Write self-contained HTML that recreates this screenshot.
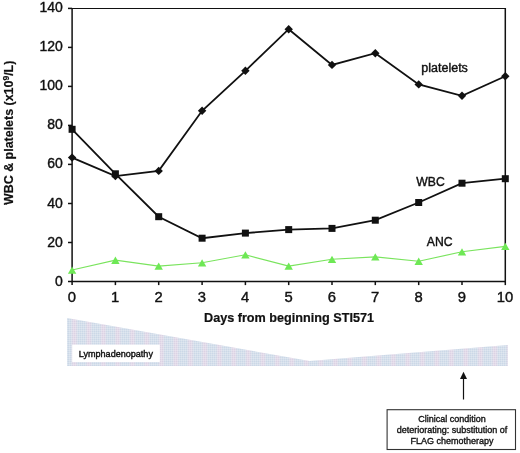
<!DOCTYPE html><html><head><meta charset="utf-8"><title>Figure</title><style>html,body{margin:0;padding:0;background:#fff}svg{display:block}</style></head><body><svg width="520" height="453" viewBox="0 0 520 453" font-family="'Liberation Sans', Arial, sans-serif">
<defs><linearGradient id="pg" x1="0" x2="1" y1="0" y2="0"><stop offset="0" stop-color="#cbd8e7"/><stop offset="0.25" stop-color="#cbd8e7"/><stop offset="0.42" stop-color="#dcd2e4"/><stop offset="0.58" stop-color="#dcd2e4"/><stop offset="0.75" stop-color="#cbd8e7"/><stop offset="1" stop-color="#cbd8e7"/></linearGradient><pattern id="pt" width="14.5" height="4" patternUnits="userSpaceOnUse" patternTransform="translate(67,0)"><rect width="14.6" height="4" fill="url(#pg)"/></pattern><pattern id="gr" width="2" height="2" patternUnits="userSpaceOnUse" patternTransform="translate(67,318)"><path d="M0,0.4 H2 M0.4,0 V2" stroke="#fff" stroke-width="0.8" stroke-opacity="0.3" fill="none"/></pattern></defs>
<rect width="520" height="453" fill="#fff"/>
<polygon points="67,318 309.5,361 508,345 508,366 67,366" fill="url(#pt)"/>
<polygon points="67,318 309.5,361 508,345 508,366 67,366" fill="url(#gr)"/>
<rect x="72.2" y="344.7" width="87.6" height="17.3" fill="#fff"/>
<text x="78.8" y="356.9" font-size="9.05" fill="#111" stroke="#111" stroke-width="0.4">Lymphadenopathy</text>
<path d="M72.1,8.5 H505.3" fill="none" stroke="#111" stroke-width="1.1"/><path d="M505.3,8 V282.2" fill="none" stroke="#111" stroke-width="1.5"/>
<path d="M72.1,7.9 V281.5 H505.8" fill="none" stroke="#111" stroke-width="1.5"/>
<line x1="68" x2="72.1" y1="281.5" y2="281.5" stroke="#111" stroke-width="1.5"/>
<text x="62.8" y="285.5" font-size="14" text-anchor="end" fill="#111" stroke="#111" stroke-width="0.4">0</text>
<line x1="68" x2="72.1" y1="242.5" y2="242.5" stroke="#111" stroke-width="1.5"/>
<text x="62.8" y="246.5" font-size="14" text-anchor="end" fill="#111" stroke="#111" stroke-width="0.4">20</text>
<line x1="68" x2="72.1" y1="203.5" y2="203.5" stroke="#111" stroke-width="1.5"/>
<text x="62.8" y="207.5" font-size="14" text-anchor="end" fill="#111" stroke="#111" stroke-width="0.4">40</text>
<line x1="68" x2="72.1" y1="164.4" y2="164.4" stroke="#111" stroke-width="1.5"/>
<text x="62.8" y="168.4" font-size="14" text-anchor="end" fill="#111" stroke="#111" stroke-width="0.4">60</text>
<line x1="68" x2="72.1" y1="125.4" y2="125.4" stroke="#111" stroke-width="1.5"/>
<text x="62.8" y="129.4" font-size="14" text-anchor="end" fill="#111" stroke="#111" stroke-width="0.4">80</text>
<line x1="68" x2="72.1" y1="86.4" y2="86.4" stroke="#111" stroke-width="1.5"/>
<text x="62.8" y="90.4" font-size="14" text-anchor="end" fill="#111" stroke="#111" stroke-width="0.4">100</text>
<line x1="68" x2="72.1" y1="47.4" y2="47.4" stroke="#111" stroke-width="1.5"/>
<text x="62.8" y="51.4" font-size="14" text-anchor="end" fill="#111" stroke="#111" stroke-width="0.4">120</text>
<line x1="68" x2="72.1" y1="8.4" y2="8.4" stroke="#111" stroke-width="1.5"/>
<text x="62.8" y="12.4" font-size="14" text-anchor="end" fill="#111" stroke="#111" stroke-width="0.4">140</text>
<line x1="72.1" x2="72.1" y1="281.5" y2="285.1" stroke="#111" stroke-width="1.5"/>
<text x="71.9" y="301.9" font-size="14.8" text-anchor="middle" fill="#111" stroke="#111" stroke-width="0.4">0</text>
<line x1="115.4" x2="115.4" y1="281.5" y2="285.1" stroke="#111" stroke-width="1.5"/>
<text x="115.2" y="301.9" font-size="14.8" text-anchor="middle" fill="#111" stroke="#111" stroke-width="0.4">1</text>
<line x1="158.7" x2="158.7" y1="281.5" y2="285.1" stroke="#111" stroke-width="1.5"/>
<text x="158.5" y="301.9" font-size="14.8" text-anchor="middle" fill="#111" stroke="#111" stroke-width="0.4">2</text>
<line x1="202.1" x2="202.1" y1="281.5" y2="285.1" stroke="#111" stroke-width="1.5"/>
<text x="201.9" y="301.9" font-size="14.8" text-anchor="middle" fill="#111" stroke="#111" stroke-width="0.4">3</text>
<line x1="245.4" x2="245.4" y1="281.5" y2="285.1" stroke="#111" stroke-width="1.5"/>
<text x="245.2" y="301.9" font-size="14.8" text-anchor="middle" fill="#111" stroke="#111" stroke-width="0.4">4</text>
<line x1="288.7" x2="288.7" y1="281.5" y2="285.1" stroke="#111" stroke-width="1.5"/>
<text x="288.5" y="301.9" font-size="14.8" text-anchor="middle" fill="#111" stroke="#111" stroke-width="0.4">5</text>
<line x1="332.0" x2="332.0" y1="281.5" y2="285.1" stroke="#111" stroke-width="1.5"/>
<text x="331.8" y="301.9" font-size="14.8" text-anchor="middle" fill="#111" stroke="#111" stroke-width="0.4">6</text>
<line x1="375.3" x2="375.3" y1="281.5" y2="285.1" stroke="#111" stroke-width="1.5"/>
<text x="375.1" y="301.9" font-size="14.8" text-anchor="middle" fill="#111" stroke="#111" stroke-width="0.4">7</text>
<line x1="418.7" x2="418.7" y1="281.5" y2="285.1" stroke="#111" stroke-width="1.5"/>
<text x="418.5" y="301.9" font-size="14.8" text-anchor="middle" fill="#111" stroke="#111" stroke-width="0.4">8</text>
<line x1="462.0" x2="462.0" y1="281.5" y2="285.1" stroke="#111" stroke-width="1.5"/>
<text x="461.8" y="301.9" font-size="14.8" text-anchor="middle" fill="#111" stroke="#111" stroke-width="0.4">9</text>
<line x1="505.3" x2="505.3" y1="281.5" y2="285.1" stroke="#111" stroke-width="1.5"/>
<text x="505.1" y="301.9" font-size="14.8" text-anchor="middle" fill="#111" stroke="#111" stroke-width="0.4">10</text>
<polyline points="72.1,270.0 115.4,260.2 158.7,266.1 202.1,262.8 245.4,254.8 288.7,266.1 332.0,259.3 375.3,256.9 418.7,261.2 462.0,251.8 505.3,246.4" fill="none" stroke="#7ae45e" stroke-width="1.15"/>
<polygon points="72.1,266.4 76.3,273.7 67.9,273.7" fill="#6ee855"/>
<polygon points="115.4,256.6 119.6,263.9 111.2,263.9" fill="#6ee855"/>
<polygon points="158.7,262.5 162.9,269.8 154.5,269.8" fill="#6ee855"/>
<polygon points="202.1,259.2 206.3,266.5 197.9,266.5" fill="#6ee855"/>
<polygon points="245.4,251.2 249.6,258.5 241.2,258.5" fill="#6ee855"/>
<polygon points="288.7,262.5 292.9,269.8 284.5,269.8" fill="#6ee855"/>
<polygon points="332.0,255.7 336.2,263.0 327.8,263.0" fill="#6ee855"/>
<polygon points="375.3,253.3 379.5,260.6 371.1,260.6" fill="#6ee855"/>
<polygon points="418.7,257.6 422.9,264.9 414.5,264.9" fill="#6ee855"/>
<polygon points="462.0,248.2 466.2,255.5 457.8,255.5" fill="#6ee855"/>
<polygon points="505.3,242.8 509.5,250.1 501.1,250.1" fill="#6ee855"/>
<polyline points="72.1,129.3 115.4,173.8 158.7,216.7 202.1,238.2 245.4,233.1 288.7,229.6 332.0,228.4 375.3,220.2 418.7,202.5 462.0,183.2 505.3,178.7" fill="none" stroke="#111" stroke-width="1.8"/>
<rect x="68.6" y="125.8" width="7" height="7" fill="#111"/>
<rect x="111.9" y="170.3" width="7" height="7" fill="#111"/>
<rect x="155.2" y="213.2" width="7" height="7" fill="#111"/>
<rect x="198.6" y="234.7" width="7" height="7" fill="#111"/>
<rect x="241.9" y="229.6" width="7" height="7" fill="#111"/>
<rect x="285.2" y="226.1" width="7" height="7" fill="#111"/>
<rect x="328.5" y="224.9" width="7" height="7" fill="#111"/>
<rect x="371.8" y="216.7" width="7" height="7" fill="#111"/>
<rect x="415.2" y="199.0" width="7" height="7" fill="#111"/>
<rect x="458.5" y="179.7" width="7" height="7" fill="#111"/>
<rect x="501.8" y="175.2" width="7" height="7" fill="#111"/>
<polyline points="72.1,157.6 115.4,176.1 158.7,170.9 202.1,110.8 245.4,70.8 288.7,29.2 332.0,64.9 375.3,53.2 418.7,84.4 462.0,95.8 505.3,76.3" fill="none" stroke="#111" stroke-width="1.8"/>
<polygon points="72.1,153.4 76.3,157.6 72.1,161.8 67.9,157.6" fill="#111"/>
<polygon points="115.4,171.9 119.6,176.1 115.4,180.3 111.2,176.1" fill="#111"/>
<polygon points="158.7,166.7 162.9,170.9 158.7,175.1 154.5,170.9" fill="#111"/>
<polygon points="202.1,106.6 206.3,110.8 202.1,115.0 197.9,110.8" fill="#111"/>
<polygon points="245.4,66.6 249.6,70.8 245.4,75.0 241.2,70.8" fill="#111"/>
<polygon points="288.7,25.0 292.9,29.2 288.7,33.4 284.5,29.2" fill="#111"/>
<polygon points="332.0,60.7 336.2,64.9 332.0,69.1 327.8,64.9" fill="#111"/>
<polygon points="375.3,49.0 379.5,53.2 375.3,57.4 371.1,53.2" fill="#111"/>
<polygon points="418.7,80.2 422.9,84.4 418.7,88.6 414.5,84.4" fill="#111"/>
<polygon points="462.0,91.6 466.2,95.8 462.0,100.0 457.8,95.8" fill="#111"/>
<polygon points="505.3,72.1 509.5,76.3 505.3,80.5 501.1,76.3" fill="#111"/>
<text x="421.3" y="71.6" font-size="12.5" fill="#111" stroke="#111" stroke-width="0.4">platelets</text>
<text x="416.3" y="185.7" font-size="12.2" fill="#111" stroke="#111" stroke-width="0.4">WBC</text>
<text x="426.8" y="245.9" font-size="12.2" fill="#111" stroke="#111" stroke-width="0.4">ANC</text>
<text x="289" y="322" font-size="12.65" font-weight="bold" text-anchor="middle" fill="#111" stroke="#111" stroke-width="0.2">Days from beginning STI571</text>
<text transform="translate(12.5,132.8) rotate(-90)" font-size="12.45" font-weight="bold" text-anchor="middle" fill="#111" stroke="#111" stroke-width="0.2">WBC &amp; platelets (x10<tspan font-size="8.5" dy="-4">9</tspan><tspan dy="4">/L)</tspan></text>
<line x1="463.5" x2="463.5" y1="377" y2="399.5" stroke="#111" stroke-width="1.2"/>
<polygon points="463.5,371.8 467,379 460,379" fill="#111"/>
<rect x="387.1" y="409.7" width="128.4" height="39.8" fill="#fff" stroke="#333" stroke-width="1.1"/>
<text x="452" y="422.0" font-size="9.0" text-anchor="middle" fill="#111" stroke="#111" stroke-width="0.35">Clinical condition</text>
<text x="452" y="433.1" font-size="9.0" text-anchor="middle" fill="#111" stroke="#111" stroke-width="0.35">deteriorating: substitution of</text>
<text x="452" y="444.2" font-size="9.0" text-anchor="middle" fill="#111" stroke="#111" stroke-width="0.35">FLAG chemotherapy</text>
</svg></body></html>
